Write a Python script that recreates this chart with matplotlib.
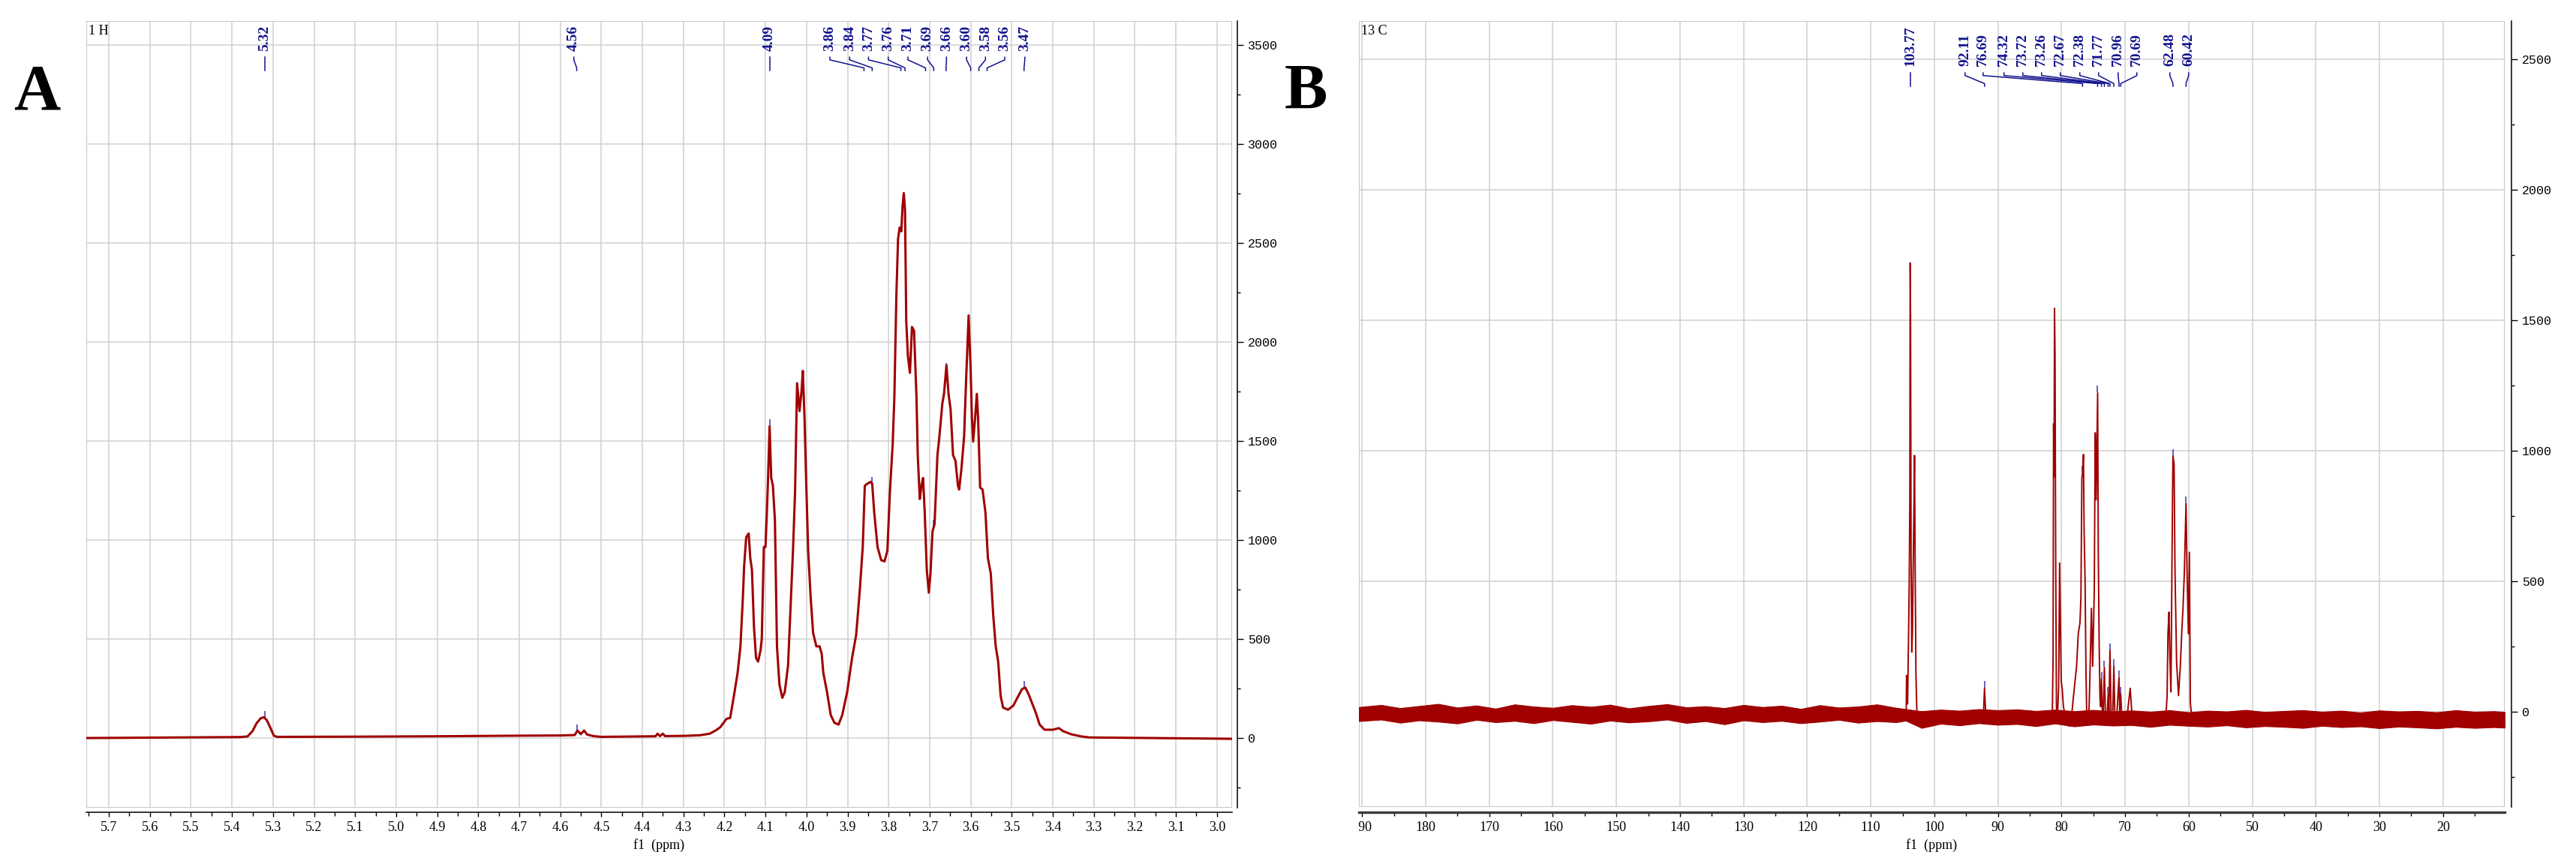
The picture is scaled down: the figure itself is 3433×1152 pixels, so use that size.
import numpy as np
import matplotlib
matplotlib.use("Agg")
import matplotlib.pyplot as plt
from matplotlib.patches import Rectangle
from matplotlib.ticker import MultipleLocator, FormatStrFormatter
from matplotlib.transforms import blended_transform_factory, Bbox, TransformedBbox

# ---- panel A : 1H spectrum (ppm, intensity) ----
h_ppm = [5.755, 5.60, 5.45, 5.38, 5.362, 5.350, 5.340, 5.330, 5.322, 5.315, 5.305, 5.298, 5.290,
         5.10, 4.90, 4.70, 4.60, 4.565, 4.558, 4.550, 4.542, 4.535, 4.52, 4.50, 4.42,
         4.368, 4.363, 4.357, 4.350, 4.345, 4.30, 4.26, 4.236, 4.22, 4.21, 4.195, 4.186,
         4.177, 4.168, 4.161, 4.155, 4.152, 4.147, 4.141, 4.137, 4.133, 4.128, 4.123, 4.118,
         4.112, 4.109, 4.104, 4.100, 4.097, 4.094, 4.090, 4.086, 4.082, 4.077, 4.072, 4.066,
         4.059, 4.053, 4.045, 4.039, 4.033, 4.028, 4.023, 4.017, 4.012, 4.009, 4.005, 4.000,
         3.996, 3.990, 3.984, 3.976, 3.968, 3.963, 3.959, 3.950, 3.941, 3.932, 3.922, 3.913,
         3.901, 3.889, 3.879, 3.870, 3.863, 3.858, 3.852, 3.844, 3.840, 3.835, 3.827, 3.818,
         3.810, 3.803, 3.797, 3.790, 3.786, 3.781, 3.777, 3.773, 3.769, 3.766, 3.763, 3.760,
         3.757, 3.753, 3.748, 3.743, 3.738, 3.732, 3.729, 3.724, 3.720, 3.716, 3.712, 3.707,
         3.702, 3.698, 3.693, 3.688, 3.681, 3.677, 3.669, 3.665, 3.659, 3.654, 3.649, 3.643,
         3.637, 3.631, 3.628, 3.622, 3.616, 3.611, 3.605, 3.600, 3.597, 3.594, 3.589, 3.585,
         3.582, 3.577, 3.571, 3.564, 3.558, 3.551, 3.545, 3.539, 3.533, 3.527, 3.521, 3.509,
         3.496, 3.484, 3.475, 3.467, 3.459, 3.450, 3.441, 3.432, 3.420, 3.400, 3.385, 3.375,
         3.355, 3.33, 3.31, 3.20, 3.00, 2.963]
h_int = [0, 2, 4, 5, 8, 35, 75, 100, 105, 90, 45, 12, 6,
         7, 9, 12, 13, 15, 38, 20, 38, 18, 10, 6, 8,
         9, 22, 10, 22, 10, 11, 14, 22, 40, 55, 97, 102,
         212, 328, 463, 714, 869, 1014, 1033, 908, 850, 560, 405, 386,
         444, 502, 965, 965, 1120, 1294, 1574, 1313, 1275, 1100, 463, 270,
         203, 232, 367, 656, 946, 1236, 1792, 1651, 1757, 1854, 1622, 1236,
         946, 714, 531, 463, 463, 425, 328, 232, 116, 77, 68, 116,
         232, 405, 521, 753, 965, 1274, 1284, 1294, 1284, 1139, 965, 898,
         892, 946, 1236, 1487, 1719, 2240, 2520, 2578, 2559, 2684, 2752, 2665,
         2105, 1931, 1844, 2076, 2057, 1719, 1429, 1207, 1274, 1313, 1139, 850,
         734, 830, 1043, 1081, 1429, 1506, 1690, 1738, 1883, 1738, 1661, 1429,
         1400, 1274, 1255, 1371, 1525, 1815, 2134, 1854, 1622, 1497, 1622, 1738,
         1622, 1265, 1255, 1139, 908, 830, 618, 463, 386, 212, 154, 143,
         164, 212, 247, 255, 222, 174, 126, 68, 42, 42, 50, 35,
         19, 8, 3, 1, -3, -4]
h_peaks = [5.32, 4.56, 4.09, 3.86, 3.84, 3.77, 3.76, 3.71, 3.69, 3.66, 3.60, 3.58, 3.56, 3.47]
# where the peak labels sit along the axis (layout)
h_label_x = [5.32, 4.567, 4.09, 3.943, 3.895, 3.849, 3.801, 3.753, 3.705, 3.659, 3.610,
             3.564, 3.517, 3.468]

# ---- panel B : 13C spectrum (ppm, intensity) ----
c_ppm = [190.5, 150, 120, 104.6, 104.42, 104.37, 104.28, 104.21, 104.05, 103.95, 103.86,
         103.80, 103.74, 103.66, 103.55, 103.45, 103.32, 103.20, 103.12, 103.02, 102.90,
         102.75, 102.40, 102.0, 96, 92.5, 92.25, 92.11, 91.95, 91.7, 86, 81.45,
         81.33, 81.25, 81.18, 81.10, 81.02, 80.92, 80.80, 80.65, 80.45, 80.30, 80.15,
         80.05, 79.90, 79.70, 79.40, 78.85, 78.5, 78.16, 77.63, 77.37, 77.1, 76.95,
         76.80, 76.69, 76.55, 76.45, 76.30, 76.15, 76.05, 75.95, 75.7, 75.55, 75.3,
         75.1, 74.85, 74.70, 74.55, 74.32, 74.22, 74.08, 73.95, 73.85, 73.72, 73.6,
         73.45, 73.26, 73.1, 72.85, 72.67, 72.55, 72.38, 72.2, 71.95, 71.77, 71.6,
         71.3, 70.96, 70.85, 70.69, 70.5, 69.7, 69.2, 68.9, 66, 63.6, 63.4, 63.26,
         63.1, 62.95, 62.79, 62.62, 62.48, 62.30, 62.15, 61.9, 61.6, 61.32, 61.1,
         60.9, 60.68, 60.42, 60.26, 60.05, 59.89, 59.74, 59.5, 45, 25, 10.3]
c_int = [-10, -12, -12, -12, 10, 139, 40, 30, 300, 507, 800,
         1720, 1500, 600, 229, 300, 570, 800, 982, 560, 146,
         0, -49, -15, -20, -18, 10, 90, 5, -20, -20, -10,
         200, 1104, 900, 1546, 1368, 600, 20, -30, 100, 570, 300,
         118, 90, 20, -20, -55, -40, 50, 174, 299, 340, 437,
         896, 917, 986, 700, 507, 150, 7, -42, -10, 118, 396,
         174, 465, 1069, 812, 1222, 618, 257, 49, 20, 125, 10,
         -20, 170, -10, -30, 69, 0, 236, -20, -10, 174, -30,
         -10, 132, 0, 69, -30, -20, 90, -20, -28, -25, 60, 299,
         382, 200, 76, 600, 979, 951, 535, 188, 62, 174, 300,
         396, 535, 799, 535, 299, 611, 35, -25, -30, -33, -35]
# spread of the baseline noise (upper / lower edge)
c_noise_ppm = [190.5, 187, 184, 181, 178, 175, 172, 169, 166, 163, 160, 157, 154, 151, 148,
               145, 142, 139, 136, 133, 130, 127, 124, 121, 118, 115, 112, 109, 106, 104.5,
               102, 99, 96, 93, 90, 87, 84, 81, 78, 75, 72, 69, 66, 63, 60, 57, 54, 51,
               48, 45, 42, 39, 36, 33, 30, 27, 24, 21, 18, 15, 12, 10.3]
c_noise_hi = [18, 26, 14, 22, 30, 16, 24, 12, 28, 20, 15, 25, 19, 27, 13, 22, 29, 17, 21,
              14, 26, 18, 23, 11, 25, 16, 20, 28, 15, 10, 2, 8, 4, 10, 6, 9, 3, 8, 2, 7,
              1, 5, 0, 6, -2, 4, 1, 7, -1, 3, 6, 0, 4, -3, 5, 1, 3, -2, 6, 0, 2, -1]
c_noise_lo = [-36, -30, -42, -33, -38, -45, -31, -40, -35, -44, -32, -39, -46, -34, -41,
              -37, -30, -43, -36, -48, -33, -40, -35, -44, -38, -31, -42, -36, -40, -34,
              -62, -46, -52, -44, -50, -47, -55, -45, -56, -49, -53, -51, -58, -50, -54,
              -57, -52, -60, -55, -58, -62, -54, -59, -56, -63, -57, -60, -64, -58, -62,
              -59, -61]
c_peaks = [103.77, 92.11, 76.69, 74.32, 73.72, 73.26, 72.67, 72.38, 71.77, 70.96, 70.69,
           62.48, 60.42]
c_label_x = [103.77, 95.17, 92.34, 89.04, 86.09, 83.14, 80.19, 77.12, 74.17, 71.10, 68.15,
             62.96, 60.01]

RED = "#a00000"
BLUE = "#12128f"
GRID = "#cfcfcf"
SERIF = "Liberation Serif"

fig = plt.figure(figsize=(34.33, 11.52), dpi=100)
W, H = 3433, 1152


def frame_axes(left, right, top, bottom):
    return fig.add_axes([left / W, 1 - bottom / H, (right - left) / W, (bottom - top) / H])


def style(ax, xlim, ylim, xmaj, xmin, fmt, spine_w, spine_c, out_b, out_r):
    ax.set_xlim(*xlim)
    ax.set_ylim(*ylim)
    ax.xaxis.set_major_locator(MultipleLocator(xmaj))
    ax.xaxis.set_minor_locator(MultipleLocator(xmin))
    ax.xaxis.set_major_formatter(FormatStrFormatter(fmt))
    ax.yaxis.set_major_locator(MultipleLocator(500))
    ax.yaxis.set_minor_locator(MultipleLocator(250))
    ax.yaxis.tick_right()
    ax.set_axisbelow(True)
    ax.grid(True, which="major", color=GRID, lw=1.1)
    for s in ("top", "left"):
        ax.spines[s].set_visible(False)
    ax.spines["bottom"].set_position(("outward", out_b))
    ax.spines["bottom"].set_linewidth(spine_w)
    ax.spines["bottom"].set_color(spine_c)
    ax.spines["right"].set_position(("outward", out_r))
    ax.spines["right"].set_linewidth(1.1)
    ax.add_patch(Rectangle((0, 0), 1, 1, transform=ax.transAxes, fill=False,
                           ec="#c4c4c4", lw=1.4, zorder=0))
    ax.tick_params(axis="x", which="major", direction="out", length=4, width=1, pad=5,
                   labelsize=13)
    ax.tick_params(axis="x", which="minor", direction="out", length=3.5, width=1)
    ax.tick_params(axis="y", which="major", direction="out", length=6, width=1, pad=4,
                   labelsize=12)
    ax.tick_params(axis="y", which="minor", direction="out", length=3, width=1)
    for t in ax.get_xticklabels():
        t.set_family(SERIF)
    for t in ax.get_yticklabels():
        t.set_family("Liberation Mono")
    ax.set_xlabel("f1  (ppm)", family=SERIF, fontsize=13, labelpad=4)


def peak_labels(ax, ppm, inten, peaks, label_x, y_txt, y_top, y_bot, mark):
    tr = blended_transform_factory(ax.transData, ax.transAxes)
    xs = np.array(ppm)[::-1]
    ys = np.array(inten)[::-1]
    d = (y_top - y_bot) * 0.2
    for pk, lx in zip(peaks, label_x):
        ax.text(lx, y_txt, f"{pk:.2f}", rotation=90, ha="center", va="bottom",
                transform=tr, color=BLUE, fontsize=14, fontweight="bold", family=SERIF)
        ax.plot([lx, lx, pk, pk], [y_top, y_top - d, y_bot + d, y_bot], transform=tr,
                color=BLUE, lw=1.1, clip_on=False)
        h = np.interp(pk, xs, ys)
        ax.plot([pk, pk], [h + mark * 0.2, h + mark], color="#3a3ab0", lw=1.4, alpha=0.8)


# ---- panel A ----
axA = frame_axes(115, 1642, 28, 1077)
axA.plot(h_ppm, h_int, color=RED, lw=2.2, zorder=3)
style(axA, (5.755, 2.963), (-352, 3621), 0.1, 0.05, "%.1f", 1.1, "black", 4.3, 5)
peak_labels(axA, h_ppm, h_int, h_peaks, h_label_x, 0.962, 0.954, 0.937, 32)
axA.text(0.002, 0.995, "1 H", transform=axA.transAxes, ha="left", va="top",
         family=SERIF, fontsize=13)

# ---- panel B ----
axB = frame_axes(1811, 3338, 28, 1076)
axB.fill_between(c_noise_ppm, c_noise_lo, c_noise_hi, color=RED, lw=0.8, zorder=2)
axB.plot(c_ppm, c_int, color=RED, lw=1.4, zorder=3)
style(axB, (190.5, 10.3), (-365, 2647), 10, 5, "%d", 2.4, "#3a3a3a", 5, 6.5)
peak_labels(axB, c_ppm, c_int, c_peaks, c_label_x, 0.943, 0.934, 0.917, 24)
axB.text(0.002, 0.995, "13 C", transform=axB.transAxes, ha="left", va="top",
         family=SERIF, fontsize=13)
# the 190 label is cut by the left edge of the plot, as in the original
clip = TransformedBbox(Bbox([[1811 / 100, 0], [W / 100, H / 100]]), fig.dpi_scale_trans)
for tick in axB.xaxis.get_major_ticks():
    tick.label1.set_clip_box(clip)
    tick.label1.set_clip_on(True)

fig.text(49 / W, 1 - 145 / H, "A", ha="center", va="baseline", family=SERIF,
         fontweight="bold", fontsize=62)
fig.text(1740 / W, 1 - 145 / H, "B", ha="center", va="baseline", family=SERIF,
         fontweight="bold", fontsize=62)

fig.savefig("out.png", dpi=100, facecolor="white")
